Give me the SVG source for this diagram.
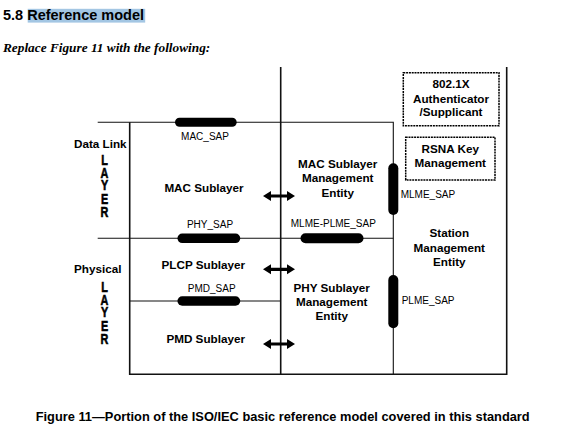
<svg xmlns="http://www.w3.org/2000/svg" xmlns:xlink="http://www.w3.org/1999/xlink" width="563" height="431" viewBox="0 0 563 431">
<style>
text{font-family:"Liberation Sans",Arial,sans-serif;fill:#000}
.b{font-weight:bold;font-size:11.7px}
.s{font-size:10px}
.c{text-anchor:middle}
.ln{stroke:#111;fill:none}
.thin{stroke-width:1.1}
.thick{stroke-width:1.6}
.pill{stroke:#000;stroke-linecap:round;fill:none}
.dot{fill:#fff;stroke:#000;stroke-width:1.5;stroke-dasharray:2 0.8}
.lay{font-weight:bold;font-size:15.5px;stroke:#000;stroke-width:0.6}
</style>
<defs>
<polygon id="dar" points="-16,0 -8,-5 -8,-1.6 8,-1.6 8,-5 16,0 8,5 8,1.6 -8,1.6 -8,5" fill="#000"/>
</defs>
<rect width="563" height="431" fill="#fff"/>
<rect x="27.7" y="8.8" width="117.5" height="13.8" fill="#a3c6e3"/>
<text x="3" y="19.6" style="font-weight:bold;font-size:14.5px">5.8 Reference model</text>
<text x="3" y="51.8" style="font-family:'Liberation Serif','Times New Roman',serif;font-weight:bold;font-style:italic;font-size:13.3px">Replace Figure 11 with the following:</text>

<g id="connectors">
<path class="ln thin" d="M97.7 122.3H393.3V374.3"/>
<path class="ln thin" d="M97.7 238.3H393.3"/>
<path class="ln thin" d="M129.7 301H280.7"/>
<path class="ln thick" d="M129.7 122.3V374.3H506.7V67"/>
<path class="ln thick" d="M280.7 67V374.3"/>
<use xlink:href="#dar" x="279" y="196"/>
<use xlink:href="#dar" x="279" y="269.3"/>
<use xlink:href="#dar" x="279" y="344"/>
</g>

<g id="mac_sap">
<line class="pill" x1="179.5" y1="122.3" x2="232.2" y2="122.3" stroke-width="9"/>
<text class="s c" x="205" y="140">MAC_SAP</text>
</g>
<g id="phy_sap">
<line class="pill" x1="182.2" y1="238.3" x2="235.5" y2="238.3" stroke-width="9.5"/>
<text class="s c" x="210" y="228.3">PHY_SAP</text>
</g>
<g id="pmd_sap">
<line class="pill" x1="182.2" y1="301" x2="235.5" y2="301" stroke-width="9.5"/>
<text class="s c" x="211.7" y="291.7">PMD_SAP</text>
</g>
<g id="mlme_plme_sap">
<line class="pill" x1="305.5" y1="238.3" x2="358.5" y2="238.3" stroke-width="10"/>
<text class="s c" x="333.3" y="226.7">MLME-PLME_SAP</text>
</g>
<g id="mlme_sap">
<line class="pill" x1="393.3" y1="168.3" x2="393.3" y2="210" stroke-width="10"/>
<text class="s" x="400.7" y="198.3">MLME_SAP</text>
</g>
<g id="plme_sap">
<line class="pill" x1="393.3" y1="280" x2="393.3" y2="323.3" stroke-width="10"/>
<text class="s" x="401.7" y="304">PLME_SAP</text>
</g>

<g id="data_link">
<text class="b" x="74" y="148">Data Link</text>
<text class="lay c" transform="translate(104.5 0) scale(0.7 1)"><tspan x="0" y="165.3">L</tspan><tspan x="0" y="177.8">A</tspan><tspan x="0" y="190.5">Y</tspan><tspan x="0" y="203.6">E</tspan><tspan x="0" y="216.7">R</tspan></text>
</g>
<g id="physical">
<text class="b" x="74" y="272.7">Physical</text>
<text class="lay c" transform="translate(104.5 0) scale(0.7 1)"><tspan x="0" y="292">L</tspan><tspan x="0" y="304.6">A</tspan><tspan x="0" y="317.5">Y</tspan><tspan x="0" y="330.8">E</tspan><tspan x="0" y="344">R</tspan></text>
</g>

<g id="mac_sublayer"><text class="b c" x="204" y="191.7">MAC Sublayer</text></g>
<g id="plcp_sublayer"><text class="b c" x="203.3" y="269.3">PLCP Sublayer</text></g>
<g id="pmd_sublayer"><text class="b c" x="205.7" y="342.7">PMD Sublayer</text></g>

<g id="mlme"><text class="b c"><tspan x="337.7" y="168.3">MAC Sublayer</tspan><tspan x="337.7" y="182.3">Management</tspan><tspan x="337.7" y="196.7">Entity</tspan></text></g>
<g id="plme"><text class="b c"><tspan x="331.7" y="291.7">PHY Sublayer</tspan><tspan x="331.7" y="306">Management</tspan><tspan x="331.7" y="320">Entity</tspan></text></g>
<g id="sme"><text class="b c"><tspan x="449.3" y="236.7">Station</tspan><tspan x="449.3" y="251.7">Management</tspan><tspan x="449.3" y="265.7">Entity</tspan></text></g>

<g id="auth">
<rect class="dot" x="403.3" y="72.7" width="95.7" height="53"/>
<text class="b c"><tspan x="451" y="88.3">802.1X</tspan><tspan x="451" y="102.7">Authenticator</tspan><tspan x="451" y="116">/Supplicant</tspan></text>
</g>
<g id="rsna">
<rect class="dot" x="405.7" y="137.3" width="89.3" height="42.7"/>
<text class="b c"><tspan x="450.3" y="153.3">RSNA Key</tspan><tspan x="450.3" y="167.3">Management</tspan></text>
</g>

<text x="35.7" y="420.7" textLength="494" lengthAdjust="spacingAndGlyphs" style="font-weight:bold;font-size:12.8px">Figure 11—Portion of the ISO/IEC basic reference model covered in this standard</text>
</svg>
